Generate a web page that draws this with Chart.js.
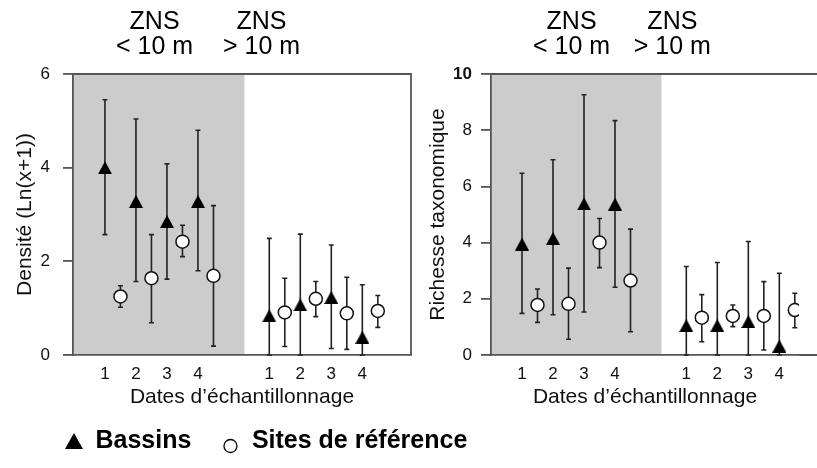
<!DOCTYPE html>
<html>
<head>
<meta charset="utf-8">
<script src="https://cdn.jsdelivr.net/npm/chart.js@4.4.1/dist/chart.umd.min.js"></script>
<style>
  html, body { margin: 0; padding: 0; background: #fff; overflow: hidden; }
  #wrap { position: relative; width: 817px; height: 468px; }
  canvas { position: absolute; top: 0; }
  #densite { left: 0; }
  #richesse { left: 410px; }
</style>
</head>
<body>
<div id="wrap">
  <canvas id="densite" width="817" height="468"></canvas>
  <canvas id="richesse" width="407" height="468"></canvas>
</div>
<script>
// dates d'echantillonnage : 4 dates en ZNS < 10 m, puis 4 en ZNS > 10 m
const dateLabels = ['1', '2', '3', '4', '1', '2', '3', '4'];
const datePos = [1, 2, 3, 4, 6.3, 7.3, 8.3, 9.3];
const refOffset = 0.5;
const zoneEnd = 5.5;
const zoneHeaders = [['ZNS', '< 10 m'], ['ZNS', '> 10 m']];
const seriesNames = ['Bassins', 'Sites de référence'];

// Densité (Ln(x+1))
const densBassins     = [4.00, 3.28, 2.85, 3.28, 0.84, 1.07, 1.23, 0.38];
const densBassinsLow  = [2.57, 1.57, 1.62, 1.80, 0.00, 0.00, 0.14, 0.00];
const densBassinsHigh = [5.45, 5.04, 4.08, 4.80, 2.49, 2.58, 2.35, 1.50];
const densRef         = [1.25, 1.64, 2.42, 1.69, 0.91, 1.20, 0.89, 0.94];
const densRefLow      = [1.02, 0.69, 2.10, 0.19, 0.18, 0.82, 0.12, 0.59];
const densRefHigh     = [1.48, 2.57, 2.77, 3.19, 1.64, 1.57, 1.66, 1.27];

// Richesse taxonomique
const richBassins     = [3.95, 4.15, 5.38, 5.37, 1.05, 1.05, 1.19, 0.32];
const richBassinsLow  = [1.48, 1.43, 1.53, 2.41, 0.00, 0.00, 0.00, 0.00];
const richBassinsHigh = [6.47, 6.95, 9.26, 8.34, 3.15, 3.29, 4.04, 2.91];
const richRef         = [1.78, 1.82, 4.00, 2.65, 1.33, 1.39, 1.39, 1.60];
const richRefLow      = [1.16, 0.56, 3.11, 0.83, 0.47, 1.01, 0.18, 0.97];
const richRefHigh     = [2.35, 3.09, 4.86, 4.48, 2.15, 1.78, 2.61, 2.20];

const FONT = '"Liberation Sans", Arial, Helvetica, sans-serif';
const AXIS = '#555';
const INK = '#111';

// marqueurs (triangle plein, centre sur la valeur)
function makeTriangle(w, h) {
  const c = document.createElement('canvas');
  c.width = w; c.height = h;
  const g = c.getContext('2d');
  g.fillStyle = '#000';
  g.beginPath(); g.moveTo(w / 2, 0); g.lineTo(w, h); g.lineTo(0, h); g.closePath(); g.fill();
  return c;
}
function makeLegendCircle() {
  const c = document.createElement('canvas');
  c.width = 17; c.height = 28;
  const g = c.getContext('2d');
  g.strokeStyle = '#000'; g.lineWidth = 1.3;
  g.beginPath(); g.arc(8.5, 19, 6.5, 0, Math.PI * 2); g.stroke();
  return c;
}
const triIcon = makeTriangle(14, 13);
const legendIcons = [makeTriangle(18, 16), makeLegendCircle()];

// barres d'erreur sous les marqueurs
const errorBars = {
  id: 'errorBars',
  beforeDatasetsDraw(chart) {
    const { ctx, scales: { y } } = chart;
    ctx.save();
    ctx.strokeStyle = '#222';
    ctx.lineWidth = 1.6;
    chart.data.datasets.forEach((ds, i) => {
      chart.getDatasetMeta(i).data.forEach((pt, j) => {
        const lo = y.getPixelForValue(ds.errLow[j]);
        const hi = y.getPixelForValue(ds.errHigh[j]);
        ctx.beginPath();
        ctx.moveTo(pt.x, lo); ctx.lineTo(pt.x, hi);
        ctx.moveTo(pt.x - 2.5, lo); ctx.lineTo(pt.x + 2.5, lo);
        ctx.moveTo(pt.x - 2.5, hi); ctx.lineTo(pt.x + 2.5, hi);
        ctx.stroke();
      });
    });
    ctx.restore();
  }
};

// zone grise, cadre et en-tetes ZNS
const panelDeco = {
  id: 'panelDeco',
  beforeDraw(chart, args, opts) {
    const { ctx, chartArea: a, scales: { x } } = chart;
    ctx.save();
    ctx.fillStyle = '#cccccc';
    ctx.fillRect(a.left, a.top, x.getPixelForValue(opts.zoneEnd) - a.left, a.bottom - a.top);
    ctx.restore();
  },
  beforeDatasetsDraw(chart, args, opts) {
    const { ctx, chartArea: a } = chart;
    ctx.save();
    ctx.strokeStyle = AXIS;
    ctx.lineWidth = 1.8;
    ctx.beginPath();
    if (opts.openRight) {
      ctx.moveTo(a.left, a.top); ctx.lineTo(chart.width, a.top);
      ctx.moveTo(a.right, a.bottom); ctx.lineTo(chart.width, a.bottom);
    } else {
      ctx.moveTo(a.left, a.top); ctx.lineTo(a.right, a.top); ctx.lineTo(a.right, a.bottom);
    }
    ctx.stroke();
    ctx.restore();
  },
  afterDraw(chart, args, opts) {
    const { ctx, scales: { x } } = chart;
    ctx.save();
    ctx.fillStyle = '#000';
    ctx.font = '25px ' + FONT;
    ctx.textAlign = 'center';
    ctx.textBaseline = 'middle';
    zoneHeaders.forEach((lines, i) => {
      const px = x.getPixelForValue(opts.headerPos[i]);
      ctx.fillText(lines[0], px, 22);
      ctx.fillText(lines[1], px, 47);
    });
    ctx.restore();
  }
};

function buildPanel(id, p) {
  const scales = {
    x: {
      type: 'linear', min: p.xMin, max: p.xMax,
      afterBuildTicks: s => { s.ticks = datePos.map(v => ({ value: v })); },
      ticks: { callback: (v, i) => dateLabels[i], autoSkip: false, maxRotation: 0, padding: 9, color: INK, font: { family: FONT, size: 17 } },
      grid: { display: false, drawTicks: false },
      border: { display: true, color: AXIS, width: 1.8 },
      title: { display: true, text: 'Dates d’échantillonnage', color: INK, font: { family: FONT, size: 21 }, padding: { top: 0, bottom: p.xTitlePad } },
      afterFit: s => { s.height = p.xHeight; }
    },
    y: {
      min: 0, max: p.yMax,
      ticks: {
        stepSize: 2, padding: p.yTickPad, color: INK,
        font: c => ({ family: FONT, size: 17, weight: c.tick && c.tick.value === 10 ? 'bold' : 'normal' })
      },
      grid: { drawOnChartArea: false, drawTicks: true, tickLength: 10, color: AXIS, lineWidth: 1.8 },
      border: { color: AXIS, width: 1.8 },
      title: { display: true, text: p.yTitle, color: INK, font: { family: FONT, size: 21 }, padding: { top: p.yTitlePad, bottom: 0 } },
      afterFit: s => { s.width = p.yWidth; }
    }
  };
  if (p.rightGap) {
    scales.pad = {
      type: 'linear', position: 'right', display: true,
      ticks: { display: false }, grid: { display: false, drawTicks: false }, border: { display: false },
      afterFit: s => { s.width = p.rightGap; }
    };
  }
  return new Chart(document.getElementById(id), {
    type: 'scatter',
    data: {
      datasets: [
        {
          label: seriesNames[0],
          data: datePos.map((x, i) => ({ x: x, y: p.bassins[i] })),
          errLow: p.bassinsLow, errHigh: p.bassinsHigh,
          pointStyle: triIcon, pointRadius: 7
        },
        {
          label: seriesNames[1],
          data: datePos.map((x, i) => ({ x: x + refOffset, y: p.ref[i] })),
          errLow: p.refLow, errHigh: p.refHigh,
          pointStyle: 'circle', pointRadius: 6.5, borderWidth: 1.5,
          borderColor: INK, backgroundColor: '#fff'
        }
      ]
    },
    options: {
      responsive: false,
      animation: false,
      events: [],
      layout: { padding: p.padding },
      plugins: {
        tooltip: { enabled: false },
        legend: p.legend ? {
          display: true, position: 'bottom', align: 'start',
          labels: {
            usePointStyle: true, boxWidth: 18, padding: 30, color: '#000',
            font: { family: FONT, size: 25, weight: 'bold' },
            generateLabels: chart => chart.data.datasets.map((ds, i) => ({
              text: ds.label, pointStyle: legendIcons[i], datasetIndex: i,
              hidden: false, lineWidth: 0, fillStyle: 'transparent', strokeStyle: 'transparent'
            }))
          }
        } : { display: false },
        panelDeco: { zoneEnd: zoneEnd, headerPos: p.headerPos, openRight: p.openRight }
      },
      scales: scales
    },
    plugins: [panelDeco, errorBars]
  });
}

buildPanel('densite', {
  bassins: densBassins, bassinsLow: densBassinsLow, bassinsHigh: densBassinsHigh,
  ref: densRef, refLow: densRefLow, refHigh: densRefHigh,
  yMax: 6, yTitle: 'Densité (Ln(x+1))',
  xMin: -0.03, xMax: 10.87,
  padding: { left: 35, top: 74, right: 0, bottom: 4.5 },
  yWidth: 38, yTickPad: 13, yTitlePad: -22.6,
  xHeight: 43.5, xTitlePad: -11.1,
  rightGap: 406, legend: true, openRight: false,
  headerPos: [2.6, 6.05]
});

buildPanel('richesse', {
  bassins: richBassins, bassinsLow: richBassinsLow, bassinsHigh: richBassinsHigh,
  ref: richRef, refLow: richRefLow, refHigh: richRefHigh,
  yMax: 10, yTitle: 'Richesse taxonomique',
  xMin: 0, xMax: 9.935,
  padding: { left: 0, top: 74, right: 18, bottom: 0 },
  yWidth: 81, yTickPad: 9, yTitlePad: 15.4,
  xHeight: 113, xTitlePad: 58.4,
  rightGap: 0, legend: false, openRight: true,
  headerPos: [2.6, 5.85]
});
</script>
</body>
</html>
